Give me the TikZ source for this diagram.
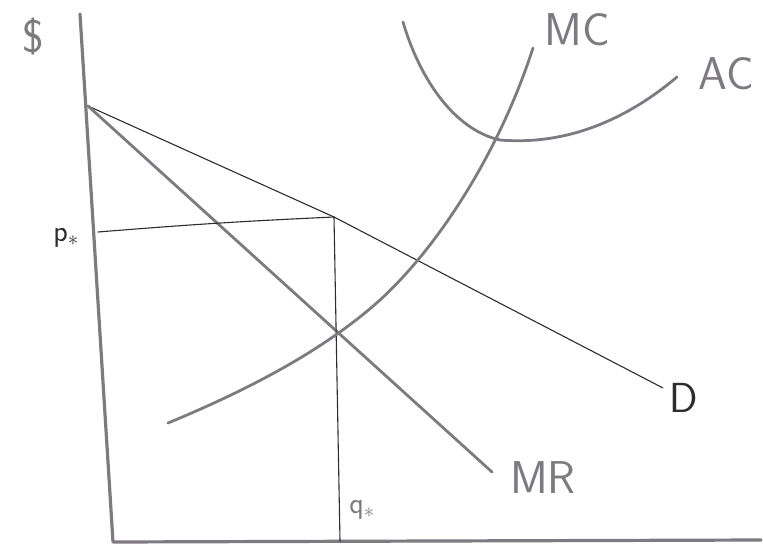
\documentclass[tikz,border=0pt]{standalone}
\usepackage{amsmath}
\usepackage{xcolor}
\usepackage{tikz}
\usetikzlibrary{calc,positioning}
\definecolor{pencil}{RGB}{125,122,128}
\definecolor{ink}{RGB}{45,45,45}

\begin{document}
\begin{tikzpicture}[x=1pt,y=-1pt,
      every node/.style={font=\sffamily,inner sep=0pt},
      ax/.style={draw=pencil,line width=3.2pt,line cap=round,line join=round},
      crv/.style={draw=pencil,line width=2.8pt,line cap=round},
      fine/.style={draw=ink,line width=1.1pt,line cap=round},
      big/.style={text=pencil,font=\sffamily\fontsize{46}{46}\selectfont},
      small/.style={text=ink,font=\sffamily\fontsize{30}{30}\selectfont}]
      \useasboundingbox[fill=white] (0,0) rectangle (763,554);
      % axes
      \coordinate (top) at (80,14);
      \coordinate (origin) at (113,542);
      \coordinate (right) at (761,540);
      \draw[ax] (top) -- (origin) -- (right);
      % demand and marginal revenue
      \coordinate (choke) at (88,106);
      \coordinate (opt) at (334,217);
      \coordinate (dend) at (663,388);
      \coordinate (mrend) at (492,472);
      \draw[fine] (choke) -- (opt) -- (dend);
      \draw[crv] (choke) -- (mrend);
      % monopoly price and quantity
      \coordinate (pax) at (98,232);
      \coordinate (qax) at (340,541);
      \draw[fine] (pax) to[bend left=1] (opt);
      \draw[fine] (opt) -- (qax);
      % cost curves
      \coordinate (mcstart) at (168,423);
      \coordinate (mcend) at (533,48);
      \coordinate (acstart) at (403,22);
      \coordinate (acend) at (677,77);
      \draw[crv] (mcstart) .. controls (260,385) and (330,345) .. (380,300)
        .. controls (440,245) and (500,150) .. (mcend);
      \draw[crv] (acstart) .. controls (420,80) and (455,130) .. (500,140)
        .. controls (560,145) and (620,125) .. (acend);
      % labels
      \node[big] (dollar) at (33,37) {\$};
      \node[big] (mclab) at (577,30) {MC};
      \node[big] (aclab) at (726,74) {AC};
      \node[big] (mrlab) at (543,478) {MR};
      \node[text=ink,font=\sffamily\fontsize{42}{42}\selectfont] (dlab) at (684,398) {D};
      \node[small] (plab) at (66,238) {p$_{\ast}$};
      \node[small,text=pencil] (qlab) at (362,510) {q$_{\ast}$};
    \end{tikzpicture}
\end{document}
